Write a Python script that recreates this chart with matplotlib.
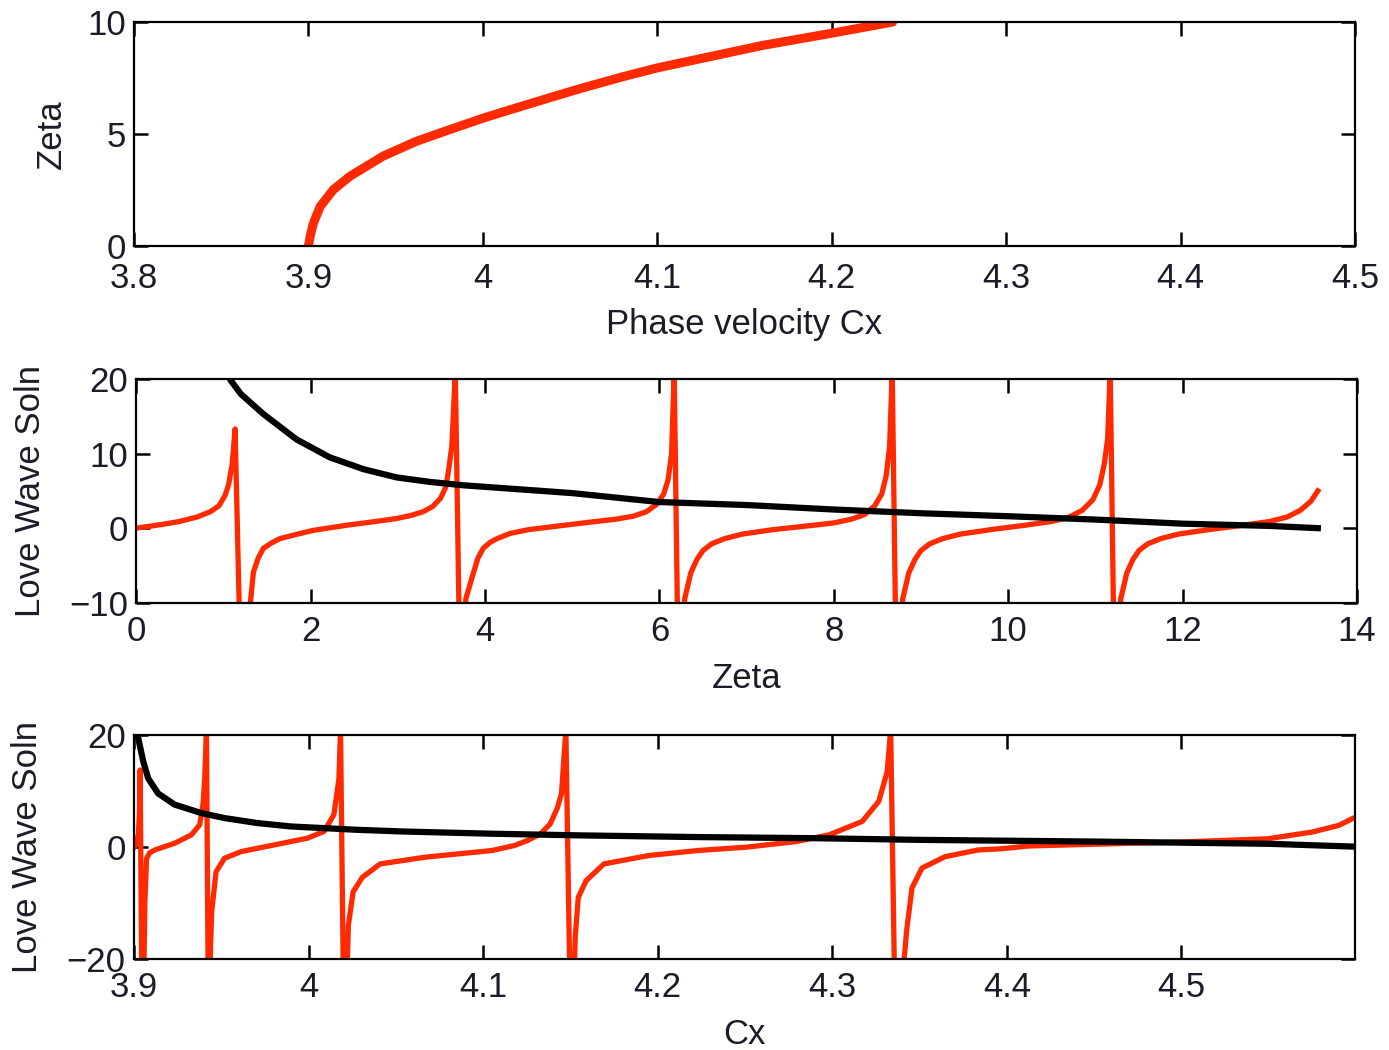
"""
Love wave dispersion: zeta vs phase velocity, and the Love wave
equation (both sides) against zeta and against Cx.
"""
import numpy as np
import matplotlib
matplotlib.use("Agg")
import matplotlib.pyplot as plt

plt.rcParams['font.family'] = ['Liberation Sans', 'DejaVu Sans']

RED = '#ff2a00'
INK = '#1c1c28'
FS = 25

# zeta against phase velocity (top panel)
cx_top = [3.9, 3.9012, 3.9028, 3.9067, 3.9142, 3.9237, 3.9427, 3.9616, 3.9806,
          4.0, 4.0186, 4.0376, 4.0565, 4.08, 4.1, 4.13, 4.16, 4.2, 4.235]
zeta_top = [0.0, 0.5, 1.0, 1.75, 2.5, 3.1, 4.0, 4.66, 5.18,
            5.7, 6.15, 6.6, 7.04, 7.55, 7.95, 8.45, 8.95, 9.5, 10.0]

# left side (tan term) against zeta, one block per branch
zeta_lhs = [0, 0.3, 0.5, 0.7, 0.85, 0.95, 1.02, 1.06, 1.1, 1.135,
            1.24,
            1.31, 1.345, 1.4, 1.46, 1.55, 1.65, 1.85, 2.03, 2.42, 2.75, 2.99, 3.15,
            3.29, 3.4, 3.49, 3.55, 3.58, 3.62, 3.66,
            3.74,
            3.78, 3.87, 3.92, 3.98, 4.06, 4.14, 4.29, 4.5, 4.85, 5.2, 5.5, 5.7,
            5.85, 5.97, 6.05, 6.1, 6.14, 6.17,
            6.24,
            6.29, 6.36, 6.43, 6.5, 6.6, 6.75, 6.95, 7.3, 7.7, 8.0, 8.2, 8.35,
            8.47, 8.55, 8.6, 8.64, 8.67,
            8.74,
            8.79, 8.86, 8.93, 9.0, 9.1, 9.25, 9.45, 9.8, 10.2, 10.5, 10.7, 10.85,
            10.97, 11.05, 11.1, 11.14, 11.17,
            11.24,
            11.29, 11.36, 11.43, 11.5, 11.6, 11.75, 11.95, 12.3, 12.7, 13.0, 13.2,
            13.35, 13.47, 13.55]
lhs = [0, 0.5, 0.9, 1.5, 2.2, 3.0, 4.4, 5.8, 8.5, 13.3,
       -40,
       -10, -5.9, -4.0, -2.7, -2.0, -1.4, -0.8, -0.3, 0.4, 0.9, 1.3, 1.7,
       2.2, 2.9, 4.0, 5.5, 7.5, 11, 21,
       -40,
       -9.5, -5.9, -4.0, -2.7, -1.9, -1.4, -0.7, -0.2, 0.3, 0.8, 1.2, 1.6,
       2.2, 3.2, 4.6, 6.5, 10, 21,
       -40,
       -9.5, -6.0, -4.2, -3.0, -2.1, -1.4, -0.8, -0.2, 0.3, 0.7, 1.2, 1.8,
       3.0, 4.6, 7.0, 11, 21,
       -40,
       -9.5, -6.0, -4.2, -3.0, -2.1, -1.4, -0.8, -0.2, 0.4, 0.9, 1.5, 2.4,
       3.8, 5.8, 8.5, 12, 21,
       -40,
       -9.5, -6.0, -4.2, -3.0, -2.1, -1.4, -0.8, -0.2, 0.4, 0.9, 1.5,
       2.4, 3.6, 5.0]

# right side (modulus ratio term) against zeta
zeta_rhs = [1.05, 1.08, 1.2, 1.46, 1.84, 2.22, 2.61, 2.99, 3.37, 3.75, 4.29,
            5.0, 6.0, 7.0, 8.0, 9.0, 10.0, 11.0, 12.0, 13.0, 13.55]
rhs = [21, 19.9, 18.0, 15.3, 11.9, 9.5, 7.9, 6.8, 6.2, 5.75, 5.3,
       4.7, 3.5, 3.1, 2.5, 2.0, 1.6, 1.15, 0.6, 0.3, 0.0]

# same two sides against phase velocity
cx_lhs = [3.9, 3.9015, 3.9025, 3.9031, 3.9035,
          3.9048,
          3.9062, 3.9072, 3.909, 3.912, 3.9233, 3.9329, 3.9376, 3.9395, 3.9405, 3.9415,
          3.9428,
          3.9438, 3.9445, 3.947, 3.9518, 3.9613, 3.9803, 3.9993, 4.0088, 4.0145,
          4.0174, 4.0183,
          4.0205,
          4.0228, 4.0255, 4.0308, 4.041, 4.0667, 4.1051, 4.118, 4.1256, 4.133,
          4.1385, 4.1425, 4.1449, 4.1474,
          4.1505,
          4.1528, 4.1545, 4.159, 4.1692, 4.1949, 4.2231, 4.251, 4.2793, 4.2982,
          4.3172, 4.3267, 4.3315, 4.3335,
          4.3365,
          4.3412, 4.3428, 4.3457, 4.3514, 4.3647, 4.3837, 4.3964, 4.4121, 4.4474,
          4.4985, 4.5495, 4.575, 4.5903, 4.598]
lhs_cx = [0.0, 0.8, 2.5, 6.0, 13.8,
          -40,
          -10, -2.0, -1.0, -0.5, 0.7, 2.2, 4.0, 7.6, 12.3, 21,
          -40,
          -18, -11.5, -4.4, -2.0, -0.8, 0.4, 1.6, 2.8, 5.8,
          12.3, 21,
          -40,
          -14, -8.0, -5.4, -3.0, -1.8, -0.6, 0.3, 1.2, 2.4,
          4.2, 7.0, 9.6, 21,
          -40,
          -16, -9.0, -6.0, -3.0, -1.5, -0.6, 0.0, 1.0, 2.2,
          4.6, 8.2, 13.5, 21,
          -40,
          -20, -14.5, -7.3, -3.75, -1.7, -0.5, -0.3, 0.2, 0.5,
          0.9, 1.5, 2.7, 3.9, 5.1]

cx_rhs = [3.9, 3.9024, 3.9053, 3.9081, 3.9138, 3.9233, 3.9385, 3.9518, 3.9708,
          3.9898, 4.0277, 4.054, 4.105, 4.156, 4.223, 4.29, 4.35, 4.45, 4.55, 4.598]
rhs_cx = [40, 19.5, 15.3, 12.3, 9.6, 7.6, 6.1, 5.2, 4.3,
          3.7, 3.1, 2.8, 2.4, 2.1, 1.8, 1.6, 1.3, 1.0, 0.6, 0.1]


def style(ax, xpad=9):
    for s in ax.spines.values():
        s.set_linewidth(1.6)
        s.set_color('black')
    ax.tick_params(direction='in', length=10, width=1.8, top=True, right=True,
                   labelsize=FS, colors='black', labelcolor=INK, pad=6)
    ax.tick_params(axis='x', pad=xpad)


fig = plt.figure(figsize=(13.89, 10.5), dpi=100)

# top: zeta vs Cx
ax1 = fig.add_axes([0.0965, 0.766, 0.879, 0.213])
ax1.plot(cx_top, zeta_top, color=RED, lw=6.5, solid_capstyle='round')
ax1.set_xlim(3.8, 4.5)
ax1.set_ylim(0, 10)
ax1.set_xticks(np.arange(3.8, 4.51, 0.1))
ax1.set_xticklabels(['3.8', '3.9', '4', '4.1', '4.2', '4.3', '4.4', '4.5'])
ax1.set_yticks([0, 5, 10])
ax1.set_xlabel('Phase velocity Cx', fontsize=FS, color=INK, labelpad=9)
ax1.set_ylabel('Zeta', fontsize=FS, color=INK, labelpad=14)
style(ax1, xpad=12)

# middle: both sides vs zeta
ax2 = fig.add_axes([0.098, 0.426, 0.879, 0.213])
ax2.plot(zeta_lhs, lhs, color=RED, lw=3.8)
ax2.plot(zeta_rhs, rhs, color='black', lw=4.5)
ax2.set_xlim(0, 14)
ax2.set_ylim(-10, 20)
ax2.set_xticks(range(0, 15, 2))
ax2.set_yticks([-10, 0, 10, 20])
ax2.set_xlabel('Zeta', fontsize=FS, color=INK, labelpad=10)
ax2.set_ylabel('Love Wave Soln', fontsize=FS, color=INK, labelpad=16)
style(ax2)

# bottom: both sides vs Cx
ax3 = fig.add_axes([0.0965, 0.0867, 0.879, 0.213])
ax3.plot(cx_lhs, lhs_cx, color=RED, lw=3.8)
ax3.plot(cx_rhs, rhs_cx, color='black', lw=4.5)
ax3.set_xlim(3.9, 4.5995)
ax3.set_ylim(-20, 20)
ax3.set_xticks(np.arange(3.9, 4.51, 0.1))
ax3.set_xticklabels(['3.9', '4', '4.1', '4.2', '4.3', '4.4', '4.5'])
ax3.set_yticks([-20, 0, 20])
ax3.set_xlabel('Cx', fontsize=FS, color=INK, labelpad=10)
ax3.set_ylabel('Love Wave Soln', fontsize=FS, color=INK, labelpad=16)
style(ax3)

fig.savefig('out.png', dpi=100)
